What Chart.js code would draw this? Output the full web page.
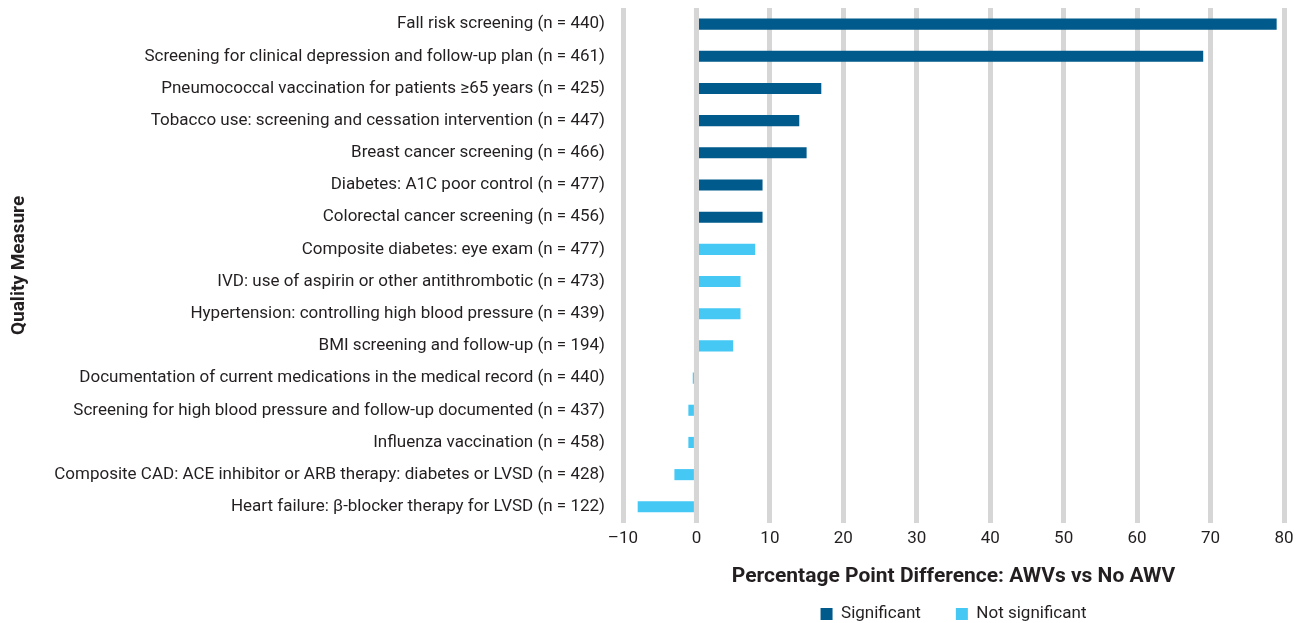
<!DOCTYPE html>
<html>
<head>
<meta charset="utf-8">
<script src="https://cdn.jsdelivr.net/npm/chart.js@4"></script>
<style>
  html, body { margin: 0; padding: 0; background: #fff; }
  #wrap { width: 1305px; height: 623px; }
</style>
</head>
<body>
<div id="wrap"><canvas id="myChart"></canvas></div>
<script>
var categories = [
    'Fall risk screening (n = 440)',
    'Screening for clinical depression and follow-up plan (n = 461)',
    'Pneumococcal vaccination for patients \u226565 years (n = 425)',
    'Tobacco use: screening and cessation intervention (n = 447)',
    'Breast cancer screening (n = 466)',
    'Diabetes: A1C poor control (n = 477)',
    'Colorectal cancer screening (n = 456)',
    'Composite diabetes: eye exam (n = 477)',
    'IVD: use of aspirin or other antithrombotic (n = 473)',
    'Hypertension: controlling high blood pressure (n = 439)',
    'BMI screening and follow-up (n = 194)',
    'Documentation of current medications in the medical record (n = 440)',
    'Screening for high blood pressure and follow-up documented (n = 437)',
    'Influenza vaccination (n = 458)',
    'Composite CAD: ACE inhibitor or ARB therapy: diabetes or LVSD (n = 428)',
    'Heart failure: \u03b2-blocker therapy for LVSD (n = 122)'
];
var differences = [79, 69, 17, 14, 15, 9, 9, 8, 6, 6, 5, -0.5, -1.1, -1.1, -3, -8];
var isSignificant = [true, true, true, true, true, true, true, false, false, false, false, false, false, false, false, false];
var xTicks = { min: -10, max: 80, step: 10 };

var fontFamily = "'Roboto', sans-serif";
var textColor = '#231f20';
var gridColor = '#d6d6d6';

var significantData = differences.map(function (v, i) { return isSignificant[i] ? v : null; });
var notSignificantData = differences.map(function (v, i) { return isSignificant[i] ? null : v; });

// redraw the zero line over the bars, like the original
var zeroLine = {
    id: 'zeroLine',
    afterDatasetsDraw: function (chart) {
        var x = chart.scales.x.getPixelForValue(0);
        var area = chart.chartArea;
        var c = chart.ctx;
        c.save();
        c.strokeStyle = gridColor;
        c.lineWidth = 5;
        c.beginPath();
        c.moveTo(x, area.top);
        c.lineTo(x, area.bottom);
        c.stroke();
        c.restore();
    }
};

var ctx = document.getElementById('myChart').getContext('2d');
var myChart = new Chart(ctx, {
    type: 'bar',
    data: {
        labels: categories,
        datasets: [{
            label: 'Significant',
            data: significantData,
            backgroundColor: '#005a8c',
            barPercentage: 0.345,
            categoryPercentage: 1
        }, {
            label: 'Not significant',
            data: notSignificantData,
            backgroundColor: '#46c8f5',
            barPercentage: 0.345,
            categoryPercentage: 1
        }]
    },
    options: {
        indexAxis: 'y',
        responsive: true,
        maintainAspectRatio: false,
        animation: false,
        layout: { padding: { top: 8, right: 21, left: 0, bottom: -9.5 } },
        scales: {
            x: {
                min: xTicks.min,
                max: xTicks.max,
                grid: { color: gridColor, lineWidth: 5, drawTicks: false },
                border: { display: false },
                ticks: {
                    stepSize: xTicks.step,
                    padding: 6,
                    color: textColor,
                    font: { family: fontFamily, size: 17 },
                    callback: function (value) {
                        return value < 0 ? '\u2013' + Math.abs(value) : value;
                    }
                },
                title: {
                    display: true,
                    text: 'Percentage Point Difference: AWVs vs No AWV',
                    color: textColor,
                    font: { family: fontFamily, size: 21, weight: 'bold' },
                    padding: { top: 9, bottom: -19 }
                }
            },
            y: {
                stacked: true,
                grid: { display: false, drawTicks: false },
                border: { display: false },
                ticks: {
                    padding: 18,
                    color: textColor,
                    font: { family: fontFamily, size: 17 }
                },
                title: {
                    display: true,
                    text: 'Quality Measure',
                    color: textColor,
                    font: { family: fontFamily, size: 19, weight: 'bold' },
                    padding: { top: 8, bottom: 0 }
                },
                afterFit: function (scale) {
                    scale.width = 623;
                    scale.paddingTop = 0;
                    scale.paddingBottom = 0;
                }
            }
        },
        plugins: {
            legend: {
                position: 'bottom',
                fullSize: false,
                labels: {
                    color: textColor,
                    font: { family: fontFamily, size: 17 },
                    boxWidth: 12,
                    boxHeight: 12,
                    padding: 35
                }
            },
            tooltip: { enabled: false }
        }
    },
    plugins: [zeroLine]
});
</script>
</body>
</html>
